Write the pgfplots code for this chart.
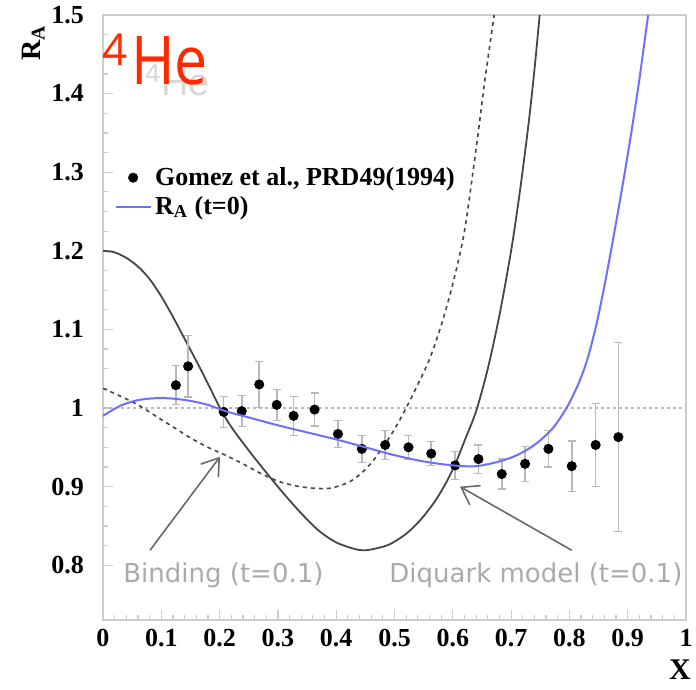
\documentclass[border=0pt]{standalone}
\usepackage{fontspec}
\setmainfont{Liberation Serif}
\newfontfamily\dejavu{DejaVu Sans}
\newfontfamily\libsans{Liberation Sans}
\newfontfamily\opensans{Open Sans}
\usepackage{pgfplots}
\usepackage{pgfplotstable}
\pgfplotsset{compat=1.18}
\usetikzlibrary{arrows.meta}
\definecolor{framegray}{RGB}{205,205,205}
\definecolor{errgray}{RGB}{185,185,185}
\definecolor{txtgray}{RGB}{170,170,170}
\definecolor{curvegray}{RGB}{70,70,70}
\definecolor{rablue}{RGB}{110,110,255}
\definecolor{hered}{RGB}{255,40,0}
\definecolor{arrowgray}{RGB}{105,105,105}
\definecolor{ghost}{RGB}{215,215,215}

\pgfplotstableread{
x      y      ey
0.125  1.029  0.025
0.146  1.053  0.039
0.207  0.995  0.020
0.238  0.996  0.020
0.268  1.030  0.029
0.298  1.004  0.020
0.327  0.990  0.025
0.363  0.998  0.021
0.403  0.967  0.017
0.444  0.948  0.017
0.484  0.953  0.018
0.524  0.950  0.015
0.563  0.942  0.015
0.604  0.927  0.018
0.644  0.935  0.018
0.684  0.916  0.019
0.724  0.929  0.022
0.764  0.948  0.023
0.804  0.926  0.032
0.845  0.953  0.053
0.884  0.963  0.120
}\gomez

\begin{document}
\begin{tikzpicture}
\begin{axis}[
  name=ax,
  scale only axis,
  width=291.5pt, height=302.5pt,
  xmin=0, xmax=1, ymin=0.7303, ymax=1.5,
  xtick={0,0.1,0.2,0.3,0.4,0.5,0.6,0.7,0.8,0.9,1},
  ytick={0.8,0.9,1,1.1,1.2,1.3,1.4,1.5},
  minor x tick num=4, minor y tick num=3,
  xtick pos=bottom, ytick pos=left,
  tick align=inside,
  major tick length=5pt, minor tick length=2.5pt,
  axis line style={framegray, line width=0.8pt},
  every tick/.style={framegray, line width=0.6pt},
  /pgf/number format/assume math mode=true,
  /pgf/number format/fixed,
  ticklabel style={font=\fontsize{13}{15}\selectfont\bfseries},
  yticklabel style={xshift=-6pt},
  xticklabel style={yshift=-1pt},
  clip mode=individual,
  legend style={at={(axis cs:0.02,1.312)}, anchor=north west, draw=none, fill=none,
    font=\fontsize{13}{15}\selectfont\bfseries, row sep=0pt, inner sep=0pt},
  legend cell align=left,
]
% ghost label behind
\node[anchor=base west, inner sep=0, text=ghost, font=\libsans\fontsize{19}{19}\selectfont]
  at (axis cs:0.072,1.398) {\textsuperscript{4}He};

% reference line at 1
\addplot[forget plot, color=errgray, line width=1pt, dash pattern=on 1.5pt off 1.5pt]
  coordinates {(0,1) (1,1)};

% Binding (t=0.1): dashed
\addplot[forget plot, color=curvegray, line width=0.8pt, dash pattern=on 2pt off 2pt, smooth]
  coordinates {(0,1.025) (0.03,1.015) (0.06,1.004) (0.09,0.990) (0.12,0.976) (0.15,0.962)
  (0.18,0.950) (0.21,0.940) (0.24,0.929) (0.27,0.917) (0.3,0.907) (0.33,0.901) (0.36,0.898)
  (0.39,0.898) (0.42,0.905) (0.44,0.915) (0.46,0.930) (0.48,0.950) (0.50,0.973) (0.52,1.000)
  (0.54,1.030) (0.56,1.062) (0.58,1.105) (0.60,1.158) (0.62,1.225) (0.64,1.330) (0.655,1.417)
  (0.671,1.50)};

% Diquark model (t=0.1): solid
\addplot[forget plot, color=curvegray, line width=0.9pt, smooth]
  coordinates {(0,1.200) (0.02,1.198) (0.04,1.191) (0.06,1.180) (0.08,1.164) (0.1,1.142)
  (0.12,1.116) (0.14,1.088) (0.16,1.060) (0.18,1.031) (0.2,1.001) (0.22,0.976) (0.25,0.946)
  (0.28,0.918) (0.31,0.891) (0.34,0.866) (0.37,0.844) (0.4,0.829) (0.43,0.821) (0.445,0.819)
  (0.46,0.820) (0.49,0.826) (0.52,0.840) (0.545,0.858) (0.57,0.882) (0.59,0.907) (0.605,0.930)
  (0.62,0.958) (0.64,0.996) (0.66,1.050) (0.68,1.118) (0.70,1.200) (0.715,1.275) (0.73,1.362)
  (0.74,1.43) (0.749,1.50)};

% data
\addplot[only marks, mark=*, color=black, mark size=2.3pt,
  error bars/.cd, y dir=both, y explicit,
  error bar style={errgray, line width=0.8pt},
  error mark options={errgray, rotate=90, mark size=2pt, line width=0.6pt}]
  table[x=x, y=y, y error=ey] {\gomez};
\addlegendentry{Gomez et al., PRD49(1994)}

% R_A (t=0)
\addplot[color=rablue, line width=1pt, smooth]
  coordinates {(0,0.990) (0.03,1.003) (0.06,1.010) (0.09,1.0125) (0.12,1.012) (0.15,1.009)
  (0.18,1.004) (0.21,0.996) (0.25,0.988) (0.3,0.978) (0.35,0.969) (0.4,0.960) (0.45,0.950)
  (0.5,0.940) (0.55,0.932) (0.6,0.927) (0.64,0.926) (0.68,0.932) (0.71,0.940) (0.74,0.953)
  (0.77,0.973) (0.795,1.0) (0.815,1.030) (0.83,1.060) (0.845,1.102) (0.86,1.155) (0.875,1.215)
  (0.89,1.278) (0.905,1.345) (0.92,1.418) (0.935,1.50)};
\addlegendentry{R\textsubscript{A} (t=0)}

% annotations
\draw[arrowgray, line width=0.8pt, -{Straight Barb[length=8pt,width=11pt]}]
  (axis cs:0.0806,0.819) -- (axis cs:0.2007,0.938);
\draw[arrowgray, line width=0.8pt, -{Straight Barb[length=8pt,width=11pt]}]
  (axis cs:0.804,0.819) -- (axis cs:0.6124,0.900);
\node[anchor=base west, inner sep=0, text=txtgray, font=\dejavu\fontsize{13}{13}\selectfont]
  at (axis cs:0.0343,0.7774) {Binding (t=0.1)};
\node[anchor=base west, inner sep=0, text=txtgray, font=\dejavu\fontsize{13}{13}\selectfont]
  at (axis cs:0.4906,0.7774) {Diquark model (t=0.1)};

% red overlay label
\node[anchor=base west, inner sep=0, text=hered, font=\opensans\fontsize{33.6}{34}\selectfont, xscale=0.88]
  at (axis cs:0.048,1.411) {He};
\node[anchor=base west, inner sep=0, text=hered, font=\opensans\fontsize{22}{22}\selectfont]
  at (axis cs:-0.0017,1.436) {4};
\end{axis}
\node[rotate=90, anchor=south east, inner sep=0, font=\fontsize{14}{14}\selectfont\bfseries]
  at ([shift={(-29pt,-5pt)}]ax.north west) {R\textsubscript{A}};
\node[inner sep=0, font=\fontsize{15}{15}\selectfont\bfseries]
  at ([shift={(-3pt,-25pt)}]ax.south east) {X};
\pgfresetboundingbox
\path ([shift={(-51.5pt,-35pt)}]ax.south west) rectangle ([shift={(5pt,7.5pt)}]ax.north east);
\end{tikzpicture}
\end{document}
